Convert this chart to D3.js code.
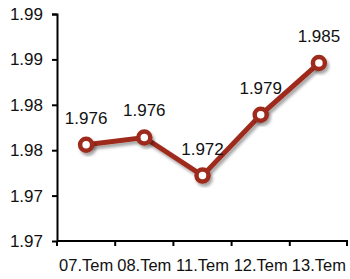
<!DOCTYPE html>
<html>
<head>
<meta charset="utf-8">
<script src="https://cdn.jsdelivr.net/npm/d3@7"></script>
<style>
body { margin: 0; background: #fff; }
#chart { width: 350px; height: 279px; }
text { font-family: "Liberation Sans", Arial, sans-serif; }
</style>
</head>
<body>
<div id="chart"></div>
<script>
var categories = ['07.Tem', '08.Tem', '11.Tem', '12.Tem', '13.Tem']
var values = [1.9756, 1.9764, 1.9722, 1.9789, 1.9846]
var yTicks = [1.965, 1.970, 1.975, 1.980, 1.985, 1.990]

var width = 350, height = 279
var margin = {top: 14, right: 2, bottom: 38, left: 57}
var mainWidth = width - margin.left - margin.right
var mainHeight = height - margin.top - margin.bottom
var lineColor = '#9e2c1e'

var chart = d3.select('#chart').append('svg').attr('width', width).attr('height', height)

var defs = chart.append('defs')
var f = defs.append('filter').attr('id', 'shadow').attr('x', '-50%').attr('y', '-50%').attr('width', '200%').attr('height', '200%')
f.append('feDropShadow').attr('dx', 2).attr('dy', 3).attr('stdDeviation', 1.8)
  .attr('flood-color', '#000').attr('flood-opacity', 0.35)

var x = d3.scaleBand().domain(categories).range([0, mainWidth])
var y = d3.scaleLinear().domain([1.965, 1.990]).range([mainHeight, 0])

var g = chart.append('g').attr('transform', 'translate(' + margin.left + ',' + margin.top + ')')

// y axis
var yAxis = d3.axisLeft(y).tickValues(yTicks).tickSize(5).tickPadding(9)
  .tickFormat(d3.format('.2f'))
var ya = g.append('g').call(yAxis)
ya.select('.domain').attr('d', 'M-5,0.5H0.5V' + mainHeight).attr('stroke', '#000').attr('stroke-width', 2)
ya.selectAll('.tick line').attr('stroke-width', 2)
ya.selectAll('text').attr('font-size', 17).attr('fill', '#111')

// x axis: ticks on band edges
var xa = g.append('g').attr('transform', 'translate(0,' + mainHeight + ')')
xa.append('line').attr('x1', 0).attr('x2', mainWidth).attr('y1', 0).attr('y2', 0)
  .attr('stroke', '#000').attr('stroke-width', 2)
var edges = categories.map(function (d) { return x(d) }).concat([mainWidth - 1])
xa.selectAll('.edge').data(edges).enter().append('line')
  .attr('x1', function (d) { return d }).attr('x2', function (d) { return d })
  .attr('y1', 0).attr('y2', 5).attr('stroke', '#000').attr('stroke-width', 2)
xa.selectAll('.lab').data(categories).enter().append('text')
  .attr('x', function (d) { return x(d) + x.bandwidth() / 2 })
  .attr('y', 30)
  .attr('text-anchor', 'middle')
  .attr('font-size', 16.5)
  .attr('fill', '#111')
  .text(function (d) { return d })

var cx = function (d, i) { return x(categories[i]) + x.bandwidth() / 2 }

var line = d3.line().x(cx).y(function (d) { return y(d) })
g.append('path').datum(values)
  .attr('d', line)
  .attr('fill', 'none')
  .attr('stroke', lineColor)
  .attr('stroke-width', 5)
  .attr('filter', 'url(#shadow)')

g.selectAll('.pt').data(values).enter().append('circle')
  .attr('cx', cx)
  .attr('cy', function (d) { return y(d) })
  .attr('r', 6)
  .attr('fill', '#fff')
  .attr('stroke', lineColor)
  .attr('stroke-width', 4.5)
  .attr('filter', 'url(#shadow)')

g.selectAll('.val').data(values).enter().append('text')
  .attr('x', cx)
  .attr('y', function (d) { return y(d) - 21 })
  .attr('text-anchor', 'middle')
  .attr('font-size', 17)
  .attr('fill', '#111')
  .text(function (d) { return d3.format('.3f')(d) })
</script>
</body>
</html>
